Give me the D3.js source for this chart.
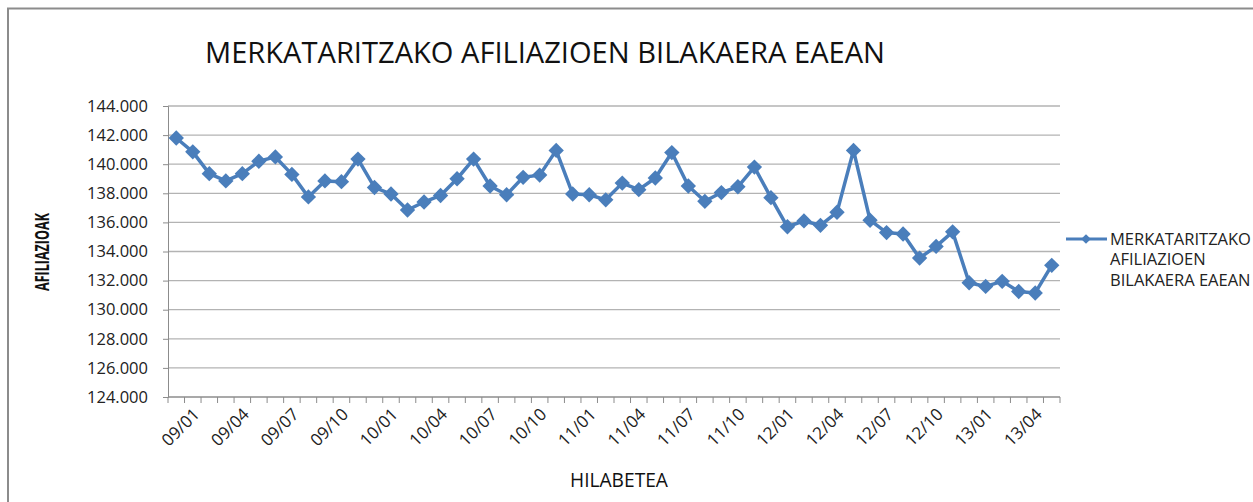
<!DOCTYPE html>
<html>
<head>
<meta charset="utf-8">
<script src="https://cdn.jsdelivr.net/npm/d3@7"></script>
<style>
  body { margin: 0; background: #fff; }
  svg { display: block; }
</style>
</head>
<body>
<svg id="chart"></svg>
<script>
// months 09/01 .. 13/06
let months = [];
for (let y = 9; y <= 13; y++) {
    let last = y === 13 ? 6 : 12;
    for (let m = 1; m <= last; m++) {
        months.push(String(y).padStart(2, "0") + "/" + String(m).padStart(2, "0"));
    }
}

let afiliazioak = [
    141800, 140850, 139350, 138850, 139350, 140200, 140500, 139300, 137750, 138850, 138800, 140350,
    138400, 137950, 136850, 137400, 137850, 139000, 140350, 138500, 137900, 139100, 139250, 140950,
    137950, 137900, 137550, 138700, 138250, 139050, 140800, 138500, 137450, 138050, 138450, 139800,
    137700, 135700, 136100, 135800, 136700, 140950, 136150, 135300, 135200, 133550, 134350, 135350,
    131850, 131600, 131950, 131250, 131150, 133050
];

let yTicks = [124000, 126000, 128000, 130000, 132000, 134000, 136000, 138000, 140000, 142000, 144000];
let xLabels = months.filter((d, i) => i % 3 === 0);

let title = "MERKATARITZAKO AFILIAZIOEN BILAKAERA EAEAN";
let seriesName = ["MERKATARITZAKO", "AFILIAZIOEN", "BILAKAERA EAEAN"];

let w = 1253, h = 502;
let color = "#4a7ebb";
let font = "'Open Sans', 'Noto Sans', sans-serif";

let svg = d3.select("#chart").attr("width", w).attr("height", h);

// chart frame
svg.append("rect")
    .attr("x", 8).attr("y", 8.5)
    .attr("width", w + 20).attr("height", h + 20)
    .attr("fill", "none")
    .attr("stroke", "#8c8c8c")
    .attr("stroke-width", 2);

let plotLeft = 168, plotRight = 1060, plotTop = 106, plotBottom = 397;

let xScale = d3.scaleBand()
    .domain(months)
    .range([plotLeft, plotRight]);

let yScale = d3.scaleLinear()
    .domain([124000, 144000])
    .range([plotBottom, plotTop]);

// grid
svg.append("g")
    .selectAll("line")
    .data(yTicks)
    .join("line")
    .attr("x1", plotLeft).attr("x2", plotRight)
    .attr("y1", d => yScale(d)).attr("y2", d => yScale(d))
    .attr("stroke", "#b3b3b3")
    .attr("stroke-width", 1.3);

let fmt = d => d3.format(",.3f")(d / 1000).replace(",", ".");

let yAxis = d3.axisLeft(yScale)
    .tickValues(yTicks)
    .tickSize(5)
    .tickPadding(15)
    .tickFormat(fmt);
let yAxisGroup = svg.append("g")
    .attr("transform", `translate(${plotLeft}, 0)`)
    .call(yAxis);
yAxisGroup.selectAll("text")
    .attr("font-family", font)
    .attr("font-size", 16.5)
    .attr("fill", "#222");
yAxisGroup.select(".domain").attr("stroke", "#8c8c8c");
yAxisGroup.selectAll(".tick line").attr("stroke", "#8c8c8c");

// x axis: ticks on category boundaries
let xAxisGroup = svg.append("g")
    .attr("transform", `translate(0, ${plotBottom})`);
xAxisGroup.append("line")
    .attr("x1", plotLeft).attr("x2", plotRight)
    .attr("stroke", "#8c8c8c");
xAxisGroup.selectAll("line.tk")
    .data(months.concat(["end"]))
    .join("line")
    .attr("class", "tk")
    .attr("x1", (d, i) => plotLeft + i * xScale.bandwidth())
    .attr("x2", (d, i) => plotLeft + i * xScale.bandwidth())
    .attr("y1", 0).attr("y2", 6)
    .attr("stroke", "#8c8c8c");
xAxisGroup.selectAll("text")
    .data(xLabels)
    .join("text")
    .attr("transform", d => `translate(${xScale(d) + xScale.bandwidth() / 2 + 16}, 10) rotate(-45)`)
    .attr("text-anchor", "end")
    .attr("dy", "0.7em")
    .attr("font-family", font)
    .attr("font-size", 17)
    .attr("fill", "#222")
    .text(d => d);

// line
let line = d3.line()
    .x((d, i) => xScale(months[i]) + xScale.bandwidth() / 2)
    .y(d => yScale(d));

svg.append("path")
    .datum(afiliazioak)
    .attr("fill", "none")
    .attr("stroke", color)
    .attr("stroke-width", 3.5)
    .attr("stroke-linejoin", "round")
    .attr("d", line);

let diamond = d3.symbol().type(d3.symbolDiamond2).size(150);

svg.append("g")
    .selectAll("path")
    .data(afiliazioak)
    .join("path")
    .attr("transform", (d, i) => `translate(${xScale(months[i]) + xScale.bandwidth() / 2}, ${yScale(d)})`)
    .attr("d", diamond)
    .attr("fill", color);

// title
svg.append("text")
    .attr("x", 205).attr("y", 63)
    .attr("font-family", font)
    .attr("font-size", 30)
    .attr("textLength", 680)
    .attr("lengthAdjust", "spacingAndGlyphs")
    .attr("fill", "#111")
    .text(title);

// axis titles
svg.append("text")
    .attr("transform", "translate(49, 252) rotate(-90)")
    .attr("text-anchor", "middle")
    .attr("font-family", font)
    .attr("font-size", 19)
    .attr("font-weight", "bold")
    .attr("textLength", 78)
    .attr("lengthAdjust", "spacingAndGlyphs")
    .attr("fill", "#111")
    .text("AFILIAZIOAK");

svg.append("text")
    .attr("x", 619).attr("y", 487)
    .attr("text-anchor", "middle")
    .attr("font-family", font)
    .attr("font-size", 20)
    .attr("textLength", 98)
    .attr("lengthAdjust", "spacingAndGlyphs")
    .attr("fill", "#111")
    .text("HILABETEA");

// legend
let legend = svg.append("g").attr("transform", "translate(1066, 239)");
legend.append("line")
    .attr("x1", 0).attr("x2", 41)
    .attr("stroke", color)
    .attr("stroke-width", 3.2);
legend.append("path")
    .attr("transform", "translate(20, 0)")
    .attr("d", d3.symbol().type(d3.symbolDiamond2).size(60))
    .attr("fill", color);
legend.selectAll("text")
    .data(seriesName)
    .join("text")
    .attr("x", 44)
    .attr("y", (d, i) => i * 20.5)
    .attr("dy", "0.35em")
    .attr("font-family", font)
    .attr("font-size", 16.5)
    .attr("fill", "#222")
    .text(d => d);
</script>
</body>
</html>
